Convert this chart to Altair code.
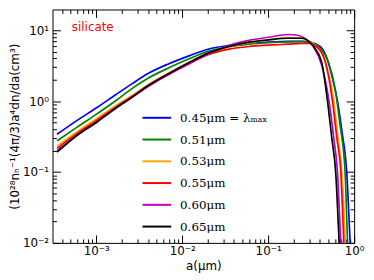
import altair as alt
import pandas as pd

labels = ["0.45μm = λₘₐₓ", "0.51μm", "0.53μm", "0.55μm", "0.60μm", "0.65μm"]
colors = ["#0000ff", "#008000", "#ffa500", "#ff0000", "#bf00bf", "#000000"]

head_a = [3.5e-4, 6e-4, 1e-3, 1.7e-3, 2.6e-3, 4e-3, 7e-3, 1.2e-2, 2e-2, 3.5e-2, 6e-2, 0.1, 0.17]

a_045 = head_a + [0.25, 0.3, 0.36, 0.42, 0.47, 0.56, 0.64, 0.72, 0.82, 0.9, 0.93]
v_045 = [0.34, 0.535, 0.80, 1.24, 1.75, 2.45, 3.37, 4.35, 5.4, 6.1, 6.55, 6.8, 6.95,
         6.95, 6.8, 6.4, 5.6, 4.4, 2.1, 1.0, 0.38, 0.1, 0.01, 0.005]

a_051 = head_a + [0.25, 0.3, 0.36, 0.42, 0.5, 0.6, 0.68, 0.785, 0.84, 0.87]
v_051 = [0.275, 0.43, 0.65, 1.02, 1.5, 2.1, 2.95, 3.95, 5.05, 5.85, 6.35, 6.65, 6.85,
         6.9, 6.8, 6.3, 5.3, 3.6, 1.5, 0.5, 0.1, 0.01, 0.005]

a_053 = head_a + [0.25, 0.3, 0.36, 0.45, 0.58, 0.65, 0.72, 0.79, 0.81]
v_053 = [0.232, 0.37, 0.56, 0.87, 1.2, 1.7, 2.5, 3.5, 4.7, 5.8, 6.7, 7.3, 7.85,
         7.7, 7.0, 6.0, 3.9, 1.0, 0.3, 0.1, 0.01, 0.005]

a_055 = head_a + [0.25, 0.3, 0.36, 0.45, 0.56, 0.63, 0.70, 0.76, 0.78]
v_055 = [0.215, 0.35, 0.53, 0.83, 1.15, 1.65, 2.4, 3.35, 4.5, 5.4, 5.9, 6.15, 6.35,
         6.5, 6.5, 6.0, 4.0, 1.0, 0.3, 0.1, 0.01, 0.005]

a_060 = head_a + [0.22, 0.27, 0.33, 0.42, 0.51, 0.58, 0.64, 0.70, 0.72]
v_060 = [0.2, 0.33, 0.5, 0.8, 1.12, 1.6, 2.4, 3.4, 4.6, 6.1, 7.2, 7.95, 8.7,
         8.5, 7.6, 6.0, 3.2, 1.0, 0.3, 0.1, 0.01, 0.005]

a_065 = head_a + [0.25, 0.3, 0.35, 0.42, 0.49, 0.55, 0.61, 0.67, 0.69]
v_065 = [0.19, 0.33, 0.5, 0.8, 1.14, 1.65, 2.45, 3.5, 4.75, 5.9, 6.8, 7.3, 7.7,
         7.7, 6.9, 5.6, 3.5, 1.0, 0.3, 0.1, 0.01, 0.005]

x_major = [1e-3, 1e-2, 1e-1, 1.0]
x_minor = [k * 10.0 ** e for e in (-4, -3, -2, -1) for k in range(2, 10) if 3.2e-4 < k * 10.0 ** e < 1.0]
y_major = [1e-2, 1e-1, 1.0, 10.0]
y_minor = [k * 10.0 ** e for e in (-2, -1, 0, 1) for k in range(2, 10) if k * 10.0 ** e < 19.6]

note_text = ["silicate"]
note_a = [5.2e-4]
note_v = [11.1]

rows = []
for lab, aa, vv in zip(labels, [a_045, a_051, a_053, a_055, a_060, a_065],
                       [v_045, v_051, v_053, v_055, v_060, v_065]):
    for i, (p, q) in enumerate(zip(aa, vv)):
        rows.append({"a": p, "v": q, "series": lab, "i": i})
df = pd.DataFrame(rows)
note_df = pd.DataFrame({"a": note_a, "v": note_v, "t": note_text})

xs = alt.Scale(type="log", domain=[3.1e-4, 1.0], nice=False)
ys = alt.Scale(type="log", domain=[0.01, 19.6], nice=False)

e = "round(log(datum.value)/LN10)"
lab_expr = (f"{e} == -3 ? '10⁻³' : {e} == -2 ? '10⁻²' : {e} == -1 ? '10⁻¹' : "
            f"{e} == 0 ? '10⁰' : '10¹'")

common = dict(domain=False, grid=False, tickColor="black", tickWidth=1,
              labelColor="black", titleColor="black")

def ax(orient, values, size, labels_on=False, title=None, **kw):
    args = dict(orient=orient, values=values, offset=-size, tickSize=size, **common)
    if labels_on:
        args.update(labelExpr=lab_expr, labelFont="DejaVu Sans", labelFontSize=12,
                    labelFlush=False, labelOverlap=False)
    else:
        args.update(labels=False)
    if title is not None:
        args.update(title=title, titleFont="DejaVu Sans", titleFontWeight="normal")
    else:
        args.update(title=None)
    args.update(kw)
    return alt.Axis(**args)

lines = alt.Chart(df).mark_line(clip=True, strokeWidth=1.7, interpolate="monotone").encode(
    x=alt.X("a:Q", scale=xs, axis=ax("bottom", x_major, 8, True, "a(μm)",
                                     labelPadding=3, titleFontSize=12, titlePadding=4)),
    y=alt.Y("v:Q", scale=ys, axis=ax("left", y_major, 8, True,
                                     "(10²⁸nₕ⁻¹(4π/3)a⁴dn/da(cm³)",
                                     labelPadding=4, titleFontSize=12, titlePadding=1)),
    color=alt.Color("series:N", scale=alt.Scale(domain=labels, range=colors),
                    sort=labels,
                    legend=alt.Legend(orient="none", legendX=90, legendY=94, title=None,
                                      symbolType="stroke", symbolSize=841,
                                      symbolStrokeWidth=2, labelFont="DejaVu Serif",
                                      labelFontSize=12, labelColor="black",
                                      labelOffset=8, rowPadding=0, padding=0,
                                      labelLimit=200)),
    order=alt.Order("i:Q"),
)

note = alt.Chart(note_df).mark_text(align="left", baseline="middle", color="#ff0000",
                                    font="DejaVu Sans", fontSize=12).encode(
    x=alt.X("a:Q", scale=xs, axis=ax("bottom", x_minor, 4)),
    y=alt.Y("v:Q", scale=ys, axis=ax("left", y_minor, 4)),
    text="t:N",
)

top_major = alt.Chart(note_df).mark_point(opacity=0).encode(
    x=alt.X("a:Q", scale=xs, axis=ax("top", x_major, 8)),
    y=alt.Y("v:Q", scale=ys, axis=ax("right", y_major, 8)),
)
top_minor = alt.Chart(note_df).mark_point(opacity=0).encode(
    x=alt.X("a:Q", scale=xs, axis=ax("top", x_minor, 4)),
    y=alt.Y("v:Q", scale=ys, axis=ax("right", y_minor, 4)),
)

chart = alt.layer(lines, note, top_major, top_minor).resolve_axis(
    x="independent", y="independent"
).properties(
    width=305, height=236,
    autosize=alt.AutoSizeParams(type="none"),
    padding={"left": 45, "top": 0, "right": 12, "bottom": 36},
).configure_view(stroke="black", strokeWidth=1)

chart.save("out.html", embed_options={"renderer": "svg", "actions": False})
